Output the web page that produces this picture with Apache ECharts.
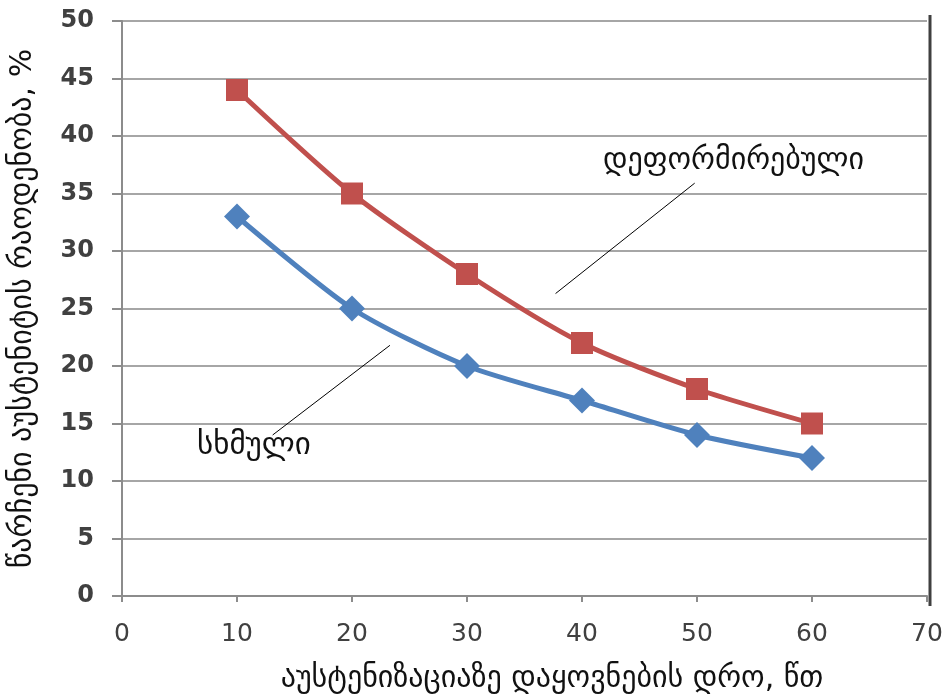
<!DOCTYPE html>
<html>
<head>
<meta charset="utf-8">
<script src="https://cdn.jsdelivr.net/npm/echarts@6/dist/echarts.min.js"></script>
<style>
  html, body { margin: 0; padding: 0; background: #fff; overflow: hidden; }
  #chart { width: 949px; height: 700px; }
</style>
</head>
<body>
<div id="chart"></div>
<script>
// Holding time at austenitization, minutes
const times = [10, 20, 30, 40, 50, 60];
// Retained austenite, % — deformed specimens
const deformed = [44, 35, 28, 22, 18, 15];
// Retained austenite, % — cast specimens
const cast = [33, 25, 20, 17, 14, 12];

const xTicks = { min: 0, max: 70, step: 10 };
const yTicks = { min: 0, max: 50, step: 5 };

const deformedName = 'დეფორმირებული';
const castName = 'სხმული';
const xTitle = 'აუსტენიზაციაზე დაყოვნების დრო, წთ';
const yTitle = 'წარჩენი აუსტენიტის რაოდენობა, %';

const chart = echarts.init(document.getElementById('chart'));
const FONT = 'DejaVu Sans';

chart.setOption({
  animation: false,
  backgroundColor: '#ffffff',
  grid: { left: 122, right: 22, top: 21, bottom: 104 },
  xAxis: {
    type: 'value',
    min: xTicks.min, max: xTicks.max, interval: xTicks.step,
    axisLine: { lineStyle: { color: '#8c8c8c', width: 2 } },
    axisTick: { show: true, inside: false, length: 6, lineStyle: { color: '#8c8c8c', width: 2 } },
    axisLabel: { fontFamily: FONT, fontSize: 25, color: '#404040', margin: 26 },
    splitLine: { show: false }
  },
  yAxis: {
    type: 'value',
    min: yTicks.min, max: yTicks.max, interval: yTicks.step,
    name: yTitle, nameLocation: 'middle', nameGap: 84,
    nameTextStyle: { fontFamily: FONT, fontSize: 30, color: '#111' },
    axisLine: { show: true, lineStyle: { color: '#8c8c8c', width: 2 } },
    axisTick: { show: true, length: 10, lineStyle: { color: '#8c8c8c', width: 2 } },
    axisLabel: { fontFamily: FONT, fontSize: 24, fontWeight: 'bold', color: '#404040', margin: 28 },
    splitLine: { show: true, lineStyle: { color: '#a6a6a6', width: 2 } }
  },
  series: [
    {
      name: deformedName,
      type: 'line',
      smooth: 0.25,
      data: times.map((t, i) => [t, deformed[i]]),
      symbol: 'rect', symbolSize: 22,
      lineStyle: { color: '#c0504d', width: 5 },
      itemStyle: { color: '#c0504d' },
      z: 3,
      markLine: {
        silent: true, symbol: 'none', label: { show: false },
        lineStyle: { color: '#000', width: 1, type: 'solid' },
        data: [[{ coord: [37.7, 26.3] }, { coord: [49.8, 35.9] }]]
      }
    },
    {
      name: castName,
      type: 'line',
      smooth: 0.25,
      data: times.map((t, i) => [t, cast[i]]),
      symbol: 'diamond', symbolSize: 26,
      lineStyle: { color: '#4f81bd', width: 5 },
      itemStyle: { color: '#4f81bd' },
      z: 3,
      markLine: {
        silent: true, symbol: 'none', label: { show: false },
        lineStyle: { color: '#000', width: 1, type: 'solid' },
        data: [[{ coord: [13.1, 14.0] }, { coord: [23.3, 21.8] }]]
      }
    }
  ],
  graphic: [
    {
      // x-axis title, set slightly right of the axis centre
      type: 'text', x: 552, y: 679,
      style: { text: xTitle, fontFamily: FONT, fontSize: 30, fill: '#111', align: 'center', verticalAlign: 'middle' }
    },
    {
      type: 'text', x: 603, y: 161,
      style: { text: deformedName, fontFamily: FONT, fontSize: 30, fill: '#111', verticalAlign: 'middle' }
    },
    {
      type: 'text', x: 197, y: 446,
      style: { text: castName, fontFamily: FONT, fontSize: 31, fill: '#111', verticalAlign: 'middle' }
    },
    {
      type: 'line',
      shape: { x1: 930, y1: 15, x2: 930, y2: 606 },
      style: { stroke: '#404040', lineWidth: 3 }
    }
  ]
});
</script>
</body>
</html>
